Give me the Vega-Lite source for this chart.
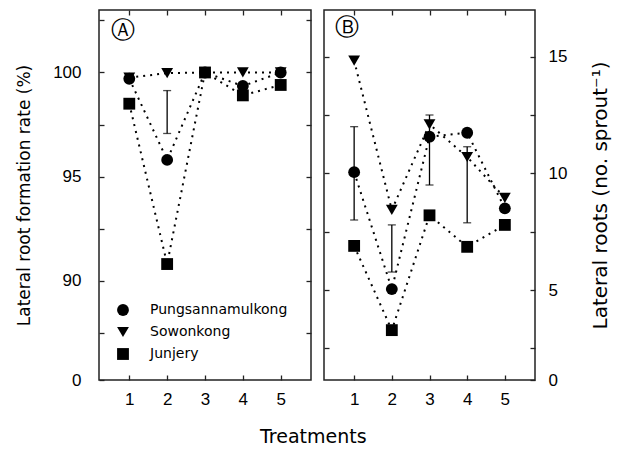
{
  "$schema": "https://vega.github.io/schema/vega-lite/v6.json",
  "background": "white",
  "padding": {"left": 14, "top": 8, "right": 0, "bottom": 5},
  "title": {"text": "Treatments", "orient": "bottom", "anchor": "middle", "font": "DejaVu Sans", "fontSize": 19, "fontWeight": "normal", "color": "black", "offset": 20},
  "datasets": {
    "a": [
      {"t": 1, "s": "Sowonkong", "v": 99.75},
      {"t": 2, "s": "Sowonkong", "v": 99.97},
      {"t": 3, "s": "Sowonkong", "v": 100.0},
      {"t": 4, "s": "Sowonkong", "v": 100.0},
      {"t": 5, "s": "Sowonkong", "v": 100.0},
      {"t": 1, "s": "Junjery", "v": 98.5},
      {"t": 2, "s": "Junjery", "v": 90.8},
      {"t": 3, "s": "Junjery", "v": 100.0},
      {"t": 4, "s": "Junjery", "v": 98.9},
      {"t": 5, "s": "Junjery", "v": 99.4},
      {"t": 1, "s": "Pungsannamulkong", "v": 99.7},
      {"t": 2, "s": "Pungsannamulkong", "v": 95.8},
      {"t": 3, "s": "Pungsannamulkong", "v": 100.0},
      {"t": 4, "s": "Pungsannamulkong", "v": 99.35},
      {"t": 5, "s": "Pungsannamulkong", "v": 100.0}
    ],
    "b": [
      {"t": 1, "s": "Sowonkong", "v": 14.83},
      {"t": 2, "s": "Sowonkong", "v": 8.43},
      {"t": 3, "s": "Sowonkong", "v": 12.1},
      {"t": 4, "s": "Sowonkong", "v": 10.7},
      {"t": 5, "s": "Sowonkong", "v": 8.95},
      {"t": 1, "s": "Junjery", "v": 6.89},
      {"t": 2, "s": "Junjery", "v": 3.28},
      {"t": 3, "s": "Junjery", "v": 8.2},
      {"t": 4, "s": "Junjery", "v": 6.85},
      {"t": 5, "s": "Junjery", "v": 7.79},
      {"t": 1, "s": "Pungsannamulkong", "v": 10.05},
      {"t": 2, "s": "Pungsannamulkong", "v": 5.04},
      {"t": 3, "s": "Pungsannamulkong", "v": 11.57},
      {"t": 4, "s": "Pungsannamulkong", "v": 11.74},
      {"t": 5, "s": "Pungsannamulkong", "v": 8.5}
    ],
    "ea": [{"t": 2, "lo": 97.07, "hi": 99.13}],
    "eb": [
      {"t": 1, "lo": 8.0, "hi": 12.0},
      {"t": 2, "lo": 5.77, "hi": 7.79},
      {"t": 3, "lo": 9.5, "hi": 12.5},
      {"t": 4, "lo": 7.88, "hi": 11.14}
    ],
    "la": [{"t": 0.84, "v": 102.0, "lab": "Ⓐ"}],
    "lb": [{"t": 0.8, "v": 16.25, "lab": "Ⓑ"}]
  },
  "spacing": 9,
  "resolve": {"scale": {"shape": "independent"}, "legend": {"shape": "independent"}},
  "config": {
    "view": {"stroke": "#222", "strokeWidth": 1.5},
    "axis": {
      "domain": false, "grid": false, "tickColor": "#222", "tickSize": -5, "tickWidth": 1.3,
      "labelFont": "Liberation Sans", "labelFontSize": 17, "labelColor": "black",
      "titleFont": "DejaVu Sans", "titleFontSize": 17, "titleFontWeight": "normal", "titleColor": "black"
    },
    "legend": {"labelFont": "DejaVu Sans", "labelFontSize": 14, "labelColor": "black"}
  },
  "hconcat": [
    {
      "width": 212, "height": 370,
      "resolve": {"axis": {"x": "independent", "y": "independent"}},
      "layer": [
        {
          "data": {"name": "a"},
          "mark": {"type": "line", "strokeDash": [2, 5], "strokeWidth": 2, "color": "black"},
          "encoding": {
            "x": {"field": "t", "type": "quantitative", "scale": {"domain": [0.2, 5.8], "nice": false, "zero": false},
                  "axis": {"orient": "bottom", "values": [1, 2, 3, 4, 5], "title": null, "labelPadding": 16}},
            "y": {"field": "v", "type": "quantitative", "scale": {"domain": [0, 86, 103], "range": [370, 354, 0], "nice": false, "zero": false},
                  "axis": {"orient": "left", "values": [0, 87.5, 90, 92.5, 95, 97.5, 100, 102.5], "labelExpr": "datum.value % 5 == 0 ? datum.label : ''", "labelPadding": 23, "title": "Lateral root formation rate (%)", "titlePadding": 19}},
            "detail": {"field": "s"}
          }
        },
        {
          "data": {"name": "ea"},
          "mark": {"type": "rule", "color": "black", "strokeWidth": 1.3},
          "encoding": {
            "x": {"field": "t", "type": "quantitative", "axis": null},
            "y": {"field": "lo", "type": "quantitative", "axis": null},
            "y2": {"field": "hi"}
          }
        },
        {
          "data": {"name": "ea"},
          "mark": {"type": "tick", "orient": "horizontal", "size": 8, "thickness": 1.3, "color": "black"},
          "encoding": {
            "x": {"field": "t", "type": "quantitative", "axis": null},
            "y": {"field": "lo", "type": "quantitative", "axis": null}
          }
        },
        {
          "data": {"name": "ea"},
          "mark": {"type": "tick", "orient": "horizontal", "size": 8, "thickness": 1.3, "color": "black"},
          "encoding": {
            "x": {"field": "t", "type": "quantitative", "axis": null},
            "y": {"field": "hi", "type": "quantitative", "axis": null}
          }
        },
        {
          "data": {"name": "a"},
          "mark": {"type": "point", "filled": true, "opacity": 1, "size": 140, "color": "black"},
          "encoding": {
            "x": {"field": "t", "type": "quantitative",
                  "axis": {"orient": "top", "values": [1, 2, 3, 4, 5], "labels": false, "title": null}},
            "y": {"field": "v", "type": "quantitative",
                  "axis": {"orient": "right", "values": [87.5, 90, 92.5, 95, 97.5, 100, 102.5], "labels": false, "title": null}},
            "shape": {"field": "s", "type": "nominal",
                      "scale": {"domain": ["Pungsannamulkong", "Sowonkong", "Junjery"], "range": ["circle", "triangle-down", "square"]},
                      "legend": {"title": null, "orient": "bottom-left", "offset": 11, "padding": 6, "symbolSize": 140, "symbolFillColor": "black", "symbolStrokeColor": "black", "labelOffset": 20, "rowPadding": 4}}
          }
        },
        {
          "data": {"name": "la"},
          "mark": {"type": "text", "font": "DejaVu Sans", "fontSize": 24, "color": "black"},
          "encoding": {
            "x": {"field": "t", "type": "quantitative", "axis": null},
            "y": {"field": "v", "type": "quantitative", "axis": null},
            "text": {"field": "lab"}
          }
        }
      ]
    },
    {
      "width": 211, "height": 370,
      "resolve": {"axis": {"x": "independent", "y": "independent"}},
      "layer": [
        {
          "data": {"name": "b"},
          "mark": {"type": "line", "strokeDash": [2, 5], "strokeWidth": 2, "color": "black"},
          "encoding": {
            "x": {"field": "t", "type": "quantitative", "scale": {"domain": [0.2, 5.8], "nice": false, "zero": false},
                  "axis": {"orient": "bottom", "values": [1, 2, 3, 4, 5], "title": null, "labelPadding": 16}},
            "y": {"field": "v", "type": "quantitative", "scale": {"domain": [0, 2, 17], "range": [370, 350, 0], "nice": false, "zero": false},
                  "axis": {"orient": "left", "values": [2.5, 5, 7.5, 10, 12.5, 15], "labels": false, "title": null}},
            "detail": {"field": "s"}
          }
        },
        {
          "data": {"name": "eb"},
          "mark": {"type": "rule", "color": "black", "strokeWidth": 1.3},
          "encoding": {
            "x": {"field": "t", "type": "quantitative", "axis": null},
            "y": {"field": "lo", "type": "quantitative", "axis": null},
            "y2": {"field": "hi"}
          }
        },
        {
          "data": {"name": "eb"},
          "mark": {"type": "tick", "orient": "horizontal", "size": 8, "thickness": 1.3, "color": "black"},
          "encoding": {
            "x": {"field": "t", "type": "quantitative", "axis": null},
            "y": {"field": "lo", "type": "quantitative", "axis": null}
          }
        },
        {
          "data": {"name": "eb"},
          "mark": {"type": "tick", "orient": "horizontal", "size": 8, "thickness": 1.3, "color": "black"},
          "encoding": {
            "x": {"field": "t", "type": "quantitative", "axis": null},
            "y": {"field": "hi", "type": "quantitative", "axis": null}
          }
        },
        {
          "data": {"name": "b"},
          "mark": {"type": "point", "filled": true, "opacity": 1, "size": 140, "color": "black"},
          "encoding": {
            "x": {"field": "t", "type": "quantitative",
                  "axis": {"orient": "top", "values": [1, 2, 3, 4, 5], "labels": false, "title": null}},
            "y": {"field": "v", "type": "quantitative",
                  "axis": {"orient": "right", "values": [0, 2.5, 5, 7.5, 10, 12.5, 15], "labelExpr": "datum.value % 5 == 0 ? datum.label : ''", "labelPadding": 18, "title": "Lateral roots (no. sprout⁻¹)", "titleAngle": 270, "titlePadding": 44, "titleFontSize": 20}},
            "shape": {"field": "s", "type": "nominal",
                      "scale": {"domain": ["Pungsannamulkong", "Sowonkong", "Junjery"], "range": ["circle", "triangle-down", "square"]},
                      "legend": null}
          }
        },
        {
          "data": {"name": "lb"},
          "mark": {"type": "text", "font": "DejaVu Sans", "fontSize": 24, "color": "black"},
          "encoding": {
            "x": {"field": "t", "type": "quantitative", "axis": null},
            "y": {"field": "v", "type": "quantitative", "axis": null},
            "text": {"field": "lab"}
          }
        }
      ]
    }
  ]
}
